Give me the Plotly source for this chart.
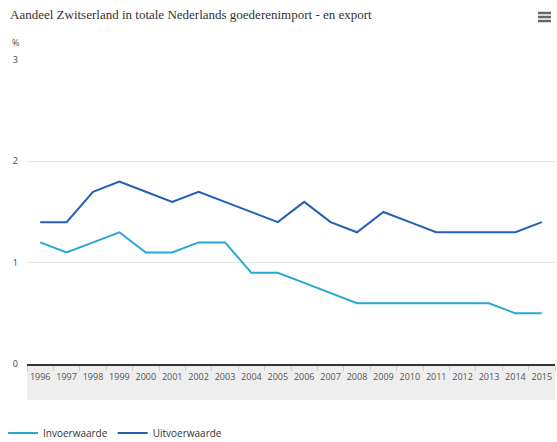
import plotly.graph_objects as go

years = [str(y) for y in range(1996, 2016)]
invoer = [1.2, 1.1, 1.2, 1.3, 1.1, 1.1, 1.2, 1.2, 0.9, 0.9, 0.8, 0.7, 0.6, 0.6, 0.6, 0.6, 0.6, 0.6, 0.5, 0.5]
uitvoer = [1.4, 1.4, 1.7, 1.8, 1.7, 1.6, 1.7, 1.6, 1.5, 1.4, 1.6, 1.4, 1.3, 1.5, 1.4, 1.3, 1.3, 1.3, 1.3, 1.4]
y_ticks = [0, 1, 2, 3]

W, H = 557, 442
L, R, T, B = 27, 2, 60, 78
PW, PH = W - L - R, H - T - B

def px(x):
    return (x - L) / PW

def py(y):
    return (H - B - y) / PH

fig = go.Figure()
fig.add_trace(go.Scatter(x=years, y=invoer, mode="lines", name="Invoerwaarde",
                         line=dict(color="#25a8d6", width=2)))
fig.add_trace(go.Scatter(x=years, y=uitvoer, mode="lines", name="Uitvoerwaarde",
                         line=dict(color="#2460b4", width=2)))

shapes = [
    dict(type="rect", xref="paper", yref="paper", x0=0, x1=1, y0=py(400), y1=0,
         fillcolor="#eeeeee", line=dict(width=0), layer="below"),
]
for yy in (13, 17, 21):
    shapes.append(dict(type="line", xref="paper", yref="paper", x0=px(538), x1=px(551),
                       y0=py(yy), y1=py(yy), line=dict(color="#666666", width=2.5)))

fig.update_layout(
    width=W, height=H,
    margin=dict(l=L, r=R, t=T, b=B, autoexpand=False),
    paper_bgcolor="white", plot_bgcolor="white",
    font=dict(family="Open Sans, sans-serif", size=9, color="#555555"),
    title=dict(text="Aandeel Zwitserland in totale Nederlands goederenimport - en export",
               x=10 / W, xanchor="left", y=1 - 14 / H, yanchor="middle",
               font=dict(family="Liberation Serif, serif", size=13, color="#333333")),
    xaxis=dict(type="category", range=[-0.5, 19.5], showgrid=False, automargin=False,
               showline=True, linecolor="#333333", linewidth=2, tickangle=0,
               ticks="outside", tickson="boundaries", ticklen=5, tickcolor="#cccccc",
               ticklabelstandoff=3,
               tickfont=dict(size=9, color="#555555"), fixedrange=True),
    yaxis=dict(range=[0, 3], tickvals=y_ticks, showgrid=True, gridcolor="#e6e6e6",
               zeroline=False, showline=False, ticks="", ticklabelstandoff=8, automargin=False,
               tickfont=dict(size=9, color="#444444"), fixedrange=True),
    showlegend=True,
    legend=dict(orientation="h", x=3 / W, xref="container", xanchor="left",
                y=1 - 433 / H, yref="container", yanchor="middle",
                font=dict(size=10, color="#333333"), bgcolor="rgba(0,0,0,0)"),
    shapes=shapes,
    annotations=[dict(text="%", xref="paper", yref="paper", x=px(15), y=py(43),
                      xanchor="center", yanchor="middle",
                      showarrow=False, font=dict(size=9, color="#555555"))],
)

fig.write_html("out.html")
